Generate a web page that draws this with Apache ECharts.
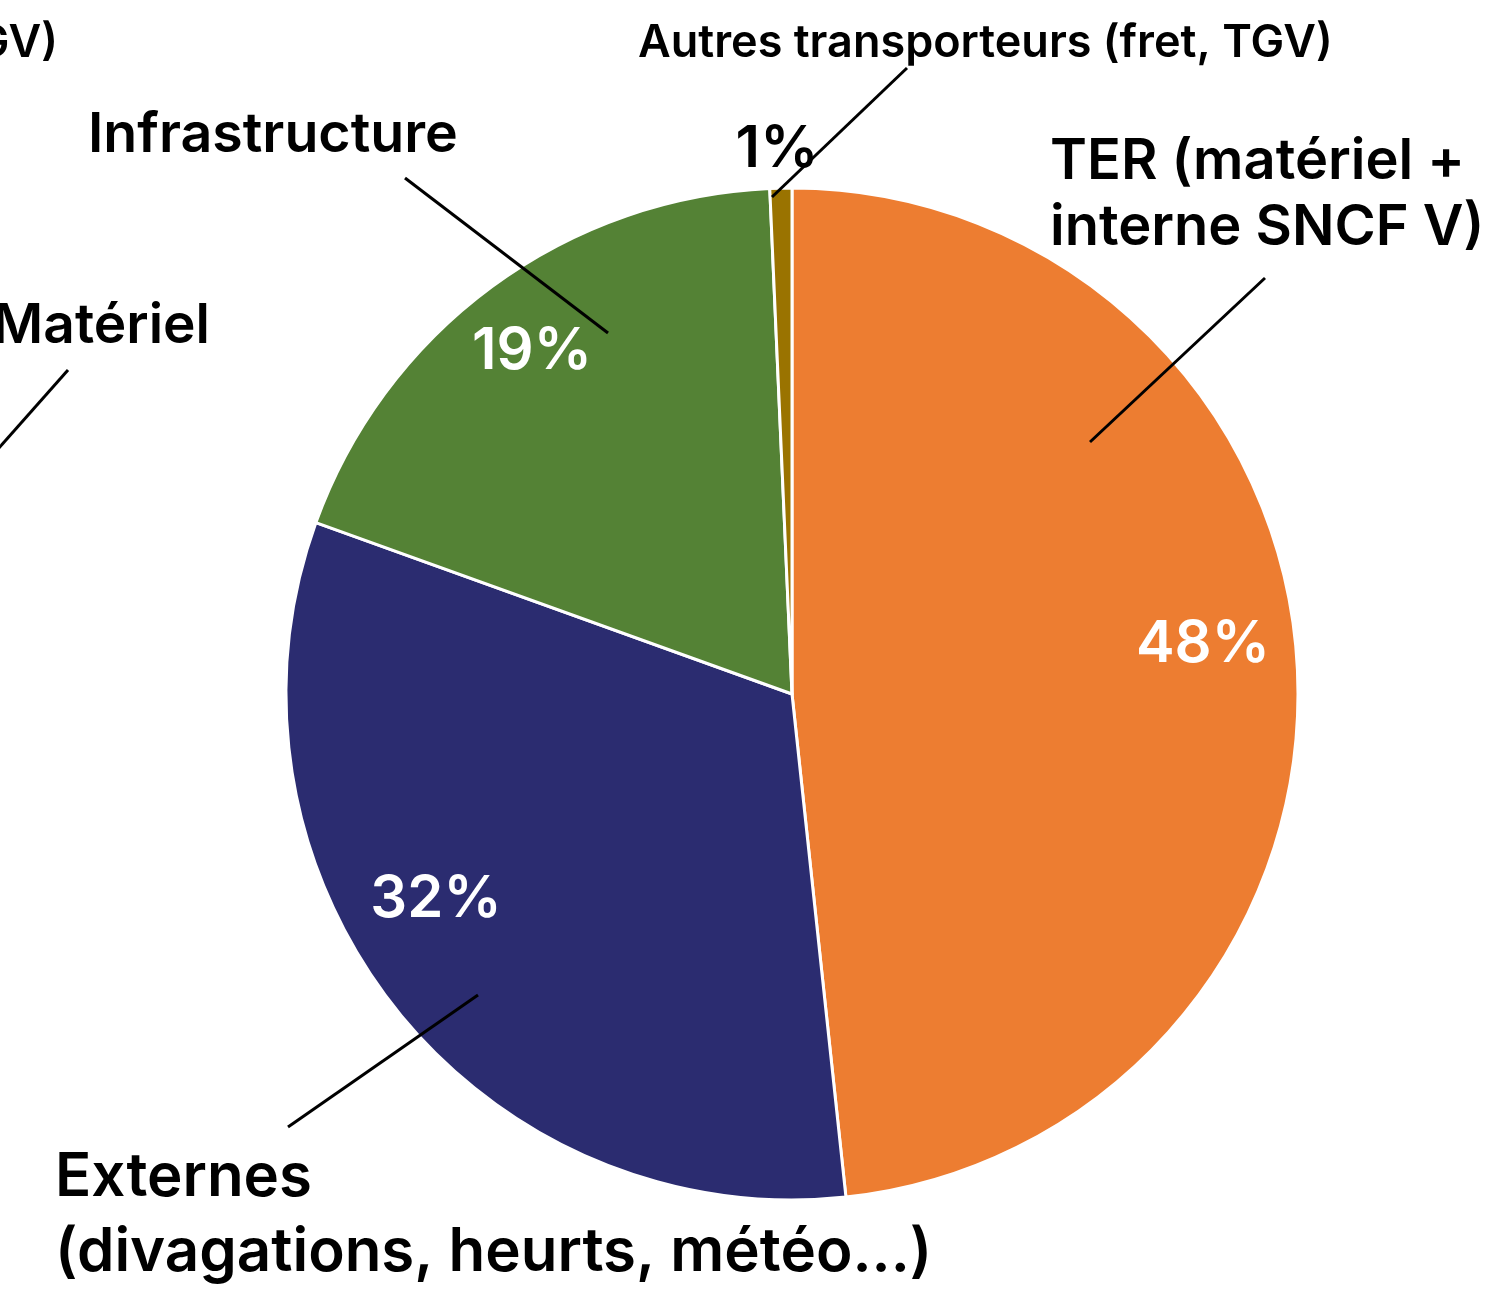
<!DOCTYPE html>
<html>
<head>
<meta charset="utf-8">
<script src="https://cdn.jsdelivr.net/npm/echarts@6/dist/echarts.min.js"></script>
<style>
  html, body { margin: 0; padding: 0; background: #fff; }
  #chart { width: 1496px; height: 1291px; }
</style>
</head>
<body>
<div id="chart"></div>
<script>
var categories = ['TER (matériel +\ninterne SNCF V)', 'Externes\n(divagations, heurts, météo...)', 'Infrastructure', 'Autres transporteurs (fret, TGV)']
var shares = [48.3, 32.2, 18.8, 0.7]
var colors = ['#ED7D31', '#2B2C70', '#548235', '#9A7300']

// hand placed labels, like in the original slide
var namePos = [[1050, 195], [55, 1215], [88, 135], [638, 43]]
var nameSize = [56, 60, 55.5, 45]
var nameLineH = [66, 75, 66, 50]
var nameLines = [
  [[1090, 442], [1090, 442], [1265, 278]],
  [[478, 995], [478, 995], [288, 1127]],
  [[608, 333], [608, 333], [405, 178]],
  [[772, 197], [772, 197], [907, 68]]
]
var pctPos = [[1203, 645], [436, 900], [532, 352], [777, 150]]
var pctColor = ['#fff', '#fff', '#fff', '#000']

var FONT = 'Inter'
var CENTER = [792, 694]
var R = 506

var chart = echarts.init(document.getElementById('chart'))

function pieBase (extra) {
  var s = {
    type: 'pie',
    center: CENTER,
    radius: R,
    startAngle: 90,
    clockwise: true,
    avoidLabelOverlap: false,
    silent: true
  }
  return Object.assign(s, extra)
}

var option = {
  backgroundColor: '#fff',
  animation: false,
  graphic: [
    // bits of the neighbouring chart cut off at the left edge
    {
      type: 'text',
      x: 58,
      y: 43,
      style: {
        text: 'Autres transporteurs (fret, TGV)',
        font: '600 45px ' + FONT,
        fill: '#000',
        align: 'right',
        verticalAlign: 'middle'
      }
    },
    {
      type: 'text',
      x: 210,
      y: 326,
      style: {
        text: 'Matériel',
        font: '600 55px ' + FONT,
        fill: '#000',
        align: 'right',
        verticalAlign: 'middle'
      }
    },
    {
      type: 'line',
      shape: { x1: 68, y1: 370, x2: -10, y2: 458 },
      style: { stroke: '#000', lineWidth: 3 }
    }
  ],
  series: [
    // the slices
    pieBase({
      z: 2,
      data: categories.map(function (name, i) {
        return { name: name, value: shares[i], itemStyle: { color: colors[i] } }
      }),
      itemStyle: { borderColor: '#fff', borderWidth: 3 },
      label: { show: false },
      labelLine: { show: false }
    }),
    // names with leader lines, on an invisible copy so the lines go over the slices
    pieBase({
      z: 3,
      data: categories.map(function (name, i) {
        return { name: name, value: shares[i], label: { fontSize: nameSize[i], lineHeight: nameLineH[i] } }
      }),
      itemStyle: { color: 'rgba(0,0,0,0)', borderWidth: 0 },
      label: {
        show: true,
        position: 'outside',
        formatter: '{b}',
        color: '#000',
        fontFamily: FONT,
        fontWeight: 600
      },
      labelLine: {
        show: true,
        lineStyle: { color: '#000', width: 3 }
      },
      labelLayout: function (p) {
        var i = p.dataIndex
        return {
          x: namePos[i][0],
          y: namePos[i][1],
          align: 'left',
          verticalAlign: 'middle',
          labelLinePoints: nameLines[i]
        }
      }
    }),
    // percentages
    pieBase({
      z: 4,
      percentPrecision: 0,
      data: categories.map(function (name, i) {
        return { name: name, value: shares[i], label: { color: pctColor[i] } }
      }),
      itemStyle: { color: 'rgba(0,0,0,0)', borderWidth: 0 },
      label: {
        show: true,
        position: 'inside',
        formatter: '{d}%',
        fontFamily: FONT,
        fontWeight: 600,
        fontSize: 58,
        color: '#fff'
      },
      labelLine: { show: false },
      labelLayout: function (p) {
        var i = p.dataIndex
        return {
          x: pctPos[i][0],
          y: pctPos[i][1],
          align: 'center',
          verticalAlign: 'middle'
        }
      }
    })
  ]
}

chart.setOption(option)
</script>
</body>
</html>
